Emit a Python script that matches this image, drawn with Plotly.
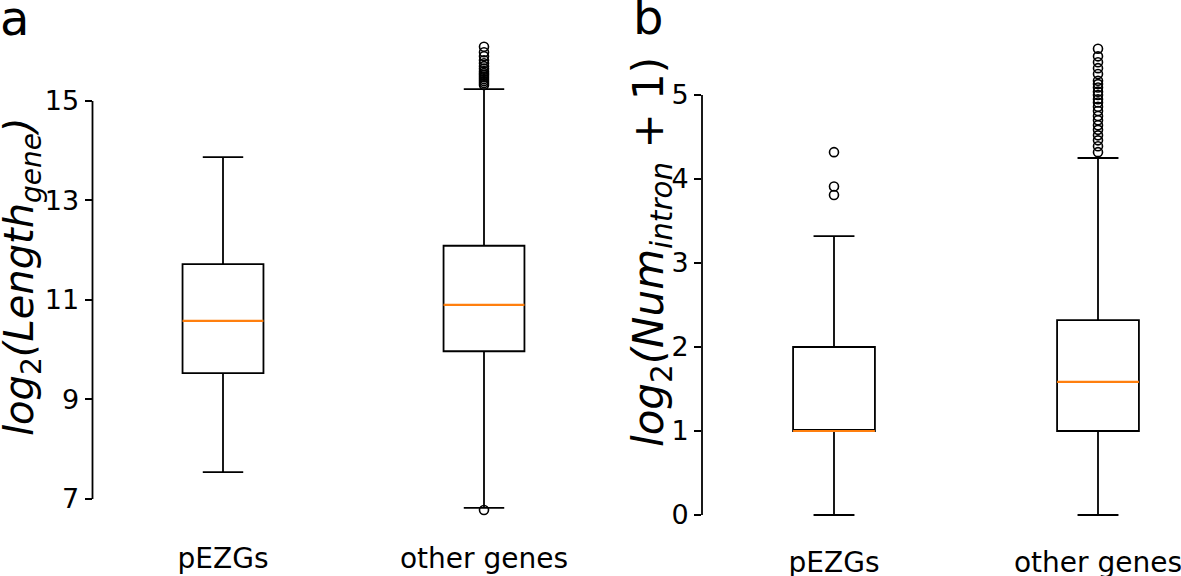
import plotly.graph_objects as go
from plotly.subplots import make_subplots

# ---------------- data ----------------
categories = ["pEZGs", "other genes"]
positions = [1, 2]

# panel a: log2(Length_gene)
a_lower = [7.54, 6.82]
a_q1 = [9.53, 9.97]
a_median = [10.58, 10.90]
a_q3 = [11.72, 12.09]
a_upper = [13.87, 15.24]
a_outliers_pEZGs = []
a_outliers_other = [6.78, 15.32, 15.36, 15.40, 15.44, 15.48, 15.52, 15.56, 15.60,
                    15.65, 15.70, 15.76, 15.82, 15.90, 15.98, 16.09]
a_ticks = [7, 9, 11, 13, 15]

# panel b: log2(Num_intron + 1)
b_lower = [0.0, 0.0]
b_q1 = [1.0, 1.0]
b_median = [1.0, 1.585]
b_q3 = [2.0, 2.32]
b_upper = [3.32, 4.25]
b_outliers_pEZGs = [3.81, 3.91, 4.32]
b_outliers_other = [4.32, 4.39, 4.46, 4.52, 4.585, 4.64, 4.70, 4.75, 4.81, 4.86,
                    4.91, 4.95, 5.00, 5.04, 5.09, 5.13, 5.17, 5.25, 5.32, 5.39,
                    5.46, 5.55]
b_ticks = [0, 1, 2, 3, 4, 5]

a_title = "<i>log</i><sub>2</sub><i>(Length</i><sub><i>gene</i></sub><i>)</i>"
b_title = "<i>log</i><sub>2</sub><i>(Num</i><sub><i>intron</i></sub> + 1)"

# ---------------- style ----------------
BOX_W = 0.31
LW = 1.8
MED_COLOR = "#ff7f0e"
FONT = "DejaVu Sans"
W, H = 1181, 576
MT, MB = 20, 51
PH = H - MT - MB


def px_x(px):
    return px / W


def px_y(px):
    return (H - MB - px) / PH


fig = make_subplots(rows=1, cols=2)


def add_panel(col, lower, q1, med, q3, upper, outs):
    fig.add_trace(go.Box(
        x=positions, q1=q1, median=med, q3=q3,
        lowerfence=lower, upperfence=upper,
        width=BOX_W, whiskerwidth=0.5, boxpoints=False,
        fillcolor="rgba(0,0,0,0)", line=dict(color="black", width=LW),
        showlegend=False, hoverinfo="skip"), row=1, col=col)
    for p, m in zip(positions, med):
        fig.add_trace(go.Scatter(
            x=[p - BOX_W / 2, p + BOX_W / 2], y=[m, m], mode="lines",
            line=dict(color=MED_COLOR, width=2.2), showlegend=False,
            hoverinfo="skip"), row=1, col=col)
    for p, o in zip(positions, outs):
        if len(o):
            fig.add_trace(go.Scatter(
                x=[p] * len(o), y=o, mode="markers",
                marker=dict(symbol="circle-open", size=9,
                            color="black", line=dict(width=1.6)),
                showlegend=False, hoverinfo="skip"), row=1, col=col)


add_panel(1, a_lower, a_q1, a_median, a_q3, a_upper,
          [a_outliers_pEZGs, a_outliers_other])
add_panel(2, b_lower, b_q1, b_median, b_q3, b_upper,
          [b_outliers_pEZGs, b_outliers_other])

common_x = dict(showgrid=False, zeroline=False, showline=False, automargin=False,
                tickvals=positions, ticktext=categories, ticks="",
                ticklabeloverflow="allow",
                tickfont=dict(family=FONT, size=28, color="black"))
fig.update_xaxes(common_x)
fig.update_xaxes(domain=[px_x(92.5), px_x(614.5)], range=[0.5, 2.5],
                 ticklabelstandoff=14, row=1, col=1)
fig.update_xaxes(domain=[px_x(702), 1.0], range=[0.5, 2.5 - 49 / 264],
                 ticklabelstandoff=18, row=1, col=2)

common_y = dict(showgrid=False, zeroline=False, showline=False, automargin=False,
                ticks="outside", ticklen=7, tickwidth=1.6, tickcolor="black",
                tickfont=dict(family=FONT, size=27, color="black"))
fig.update_yaxes(common_y)
fig.update_yaxes(range=[6.477, 16.628], tickvals=a_ticks, row=1, col=1)
fig.update_yaxes(range=[-0.119, 5.893], tickvals=b_ticks, row=1, col=2)

# spines spanning the tick range
fig.add_shape(type="line", xref="x domain", yref="y", x0=0, x1=0,
              y0=min(a_ticks), y1=max(a_ticks), line=dict(color="black", width=LW))
fig.add_shape(type="line", xref="x2 domain", yref="y2", x0=0, x1=0,
              y0=min(b_ticks), y1=max(b_ticks), line=dict(color="black", width=LW))

# axis titles
fig.add_annotation(text=a_title, x=px_x(22), y=px_y(277), xref="paper", yref="paper",
                   xanchor="center", yanchor="middle", textangle=-90, showarrow=False,
                   font=dict(family=FONT, size=40, color="black"))
fig.add_annotation(text=b_title, x=px_x(652), y=px_y(252), xref="paper", yref="paper",
                   xanchor="center", yanchor="middle", textangle=-90, showarrow=False,
                   font=dict(family=FONT, size=42, color="black"))

# panel letters
fig.add_annotation(text="a", x=-0.002, y=1.063, xref="paper", yref="paper",
                   xanchor="left", yanchor="top", showarrow=False,
                   font=dict(family=FONT, size=48, color="black"))
fig.add_annotation(text="b", x=px_x(631), y=1.065, xref="paper", yref="paper",
                   xanchor="left", yanchor="top", showarrow=False,
                   font=dict(family=FONT, size=48, color="black"))

fig.update_layout(width=W, height=H, margin=dict(l=0, r=0, t=MT, b=MB),
                  plot_bgcolor="white", paper_bgcolor="white",
                  font=dict(family=FONT, color="black"))

fig.write_html("out.html", config={"displayModeBar": False})

# remove the browser's default page margin so the figure sits at (0, 0)
with open("out.html", "r", encoding="utf-8") as f:
    html = f.read()
html = html.replace("<head>", "<head><style>html,body{margin:0;padding:0;overflow:hidden;}</style>", 1)
with open("out.html", "w", encoding="utf-8") as f:
    f.write(html)
